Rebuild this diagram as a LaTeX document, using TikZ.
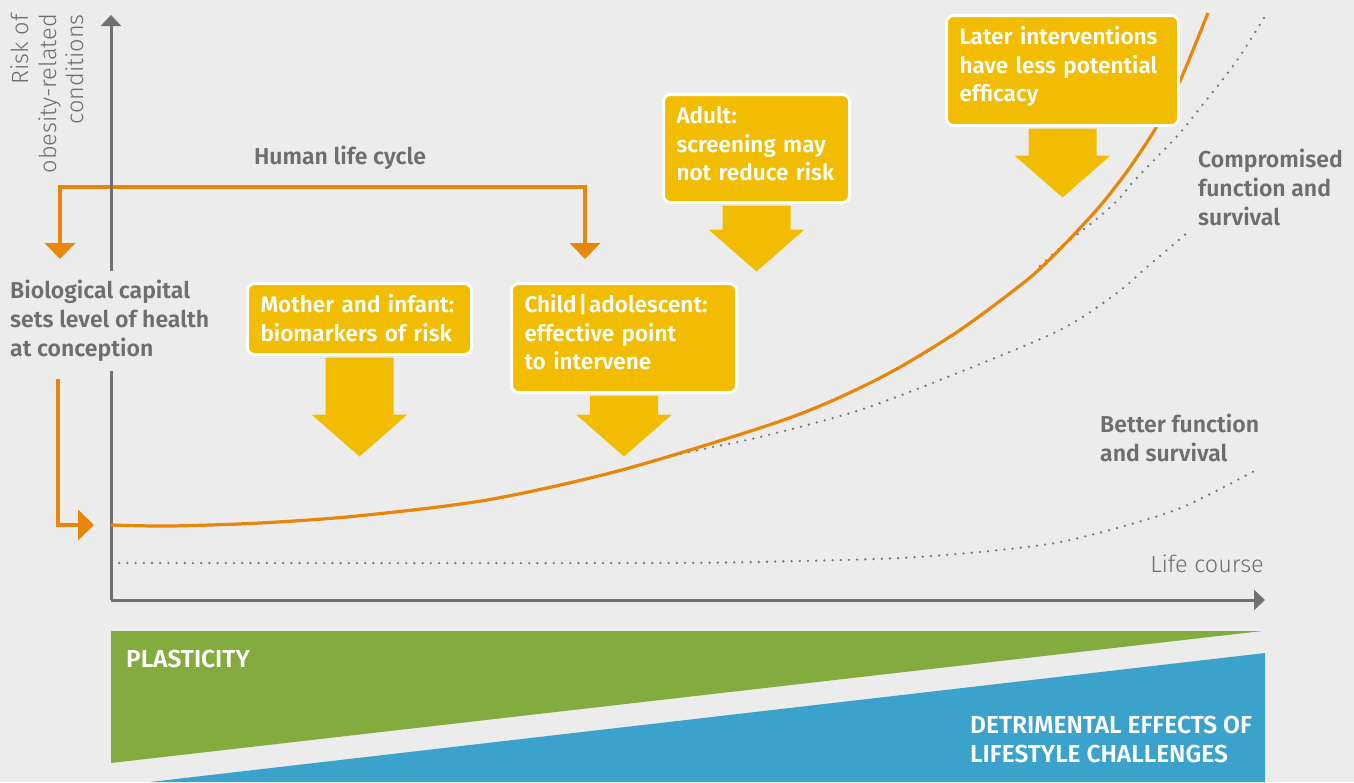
\documentclass[tikz,border=0pt]{standalone}
\usepackage{fontspec}
\setmainfont{Fira Sans}[BoldFont={Fira Sans SemiBold}]
\newfontfamily\thinfont{Fira Sans Light}
\usetikzlibrary{arrows.meta}
\definecolor{bg_gray}{HTML}{ECECEC}
\definecolor{axis_gray}{HTML}{707070}
\definecolor{text_gray}{HTML}{6E6E6E}
\definecolor{dot_gray}{HTML}{777777}
\definecolor{life_orange}{HTML}{E8860A}
\definecolor{box_yellow}{HTML}{F2BD00}
\definecolor{plastic_green}{HTML}{84AB3D}
\definecolor{lifestyle_blue}{HTML}{3BA3CB}
\tikzset{
  lifetip/.tip={Triangle[length=16pt,width=30pt]},
  axistip/.tip={Triangle[length=11pt,width=20pt]},
  axis/.style={line width=3pt, axis_gray, -axistip},
  life line/.style={line width=4.5pt, life_orange},
  risk curve/.style={line width=3.2pt, life_orange},
  outcome dots/.style={line width=2.6pt, dot_gray, line cap=round,
    dash pattern=on 0pt off 8.2pt},
  stage box/.style={fill=box_yellow, draw=white, line width=3pt,
    rounded corners=7pt, text=white, align=left, anchor=north west,
    inner xsep=13pt, inner ysep=0pt, text height=29pt,
    execute at begin node={\hyphenpenalty=10000},
    font=\bfseries\fontsize{22.5}{28.5}\selectfont},
  gray label/.style={text=text_gray, fill=bg_gray, align=left, inner sep=0pt,
    font=\bfseries\fontsize{23}{29}\selectfont},
  thin label/.style={text=text_gray, inner sep=0pt,
    font=\thinfont\fontsize{23.5}{27.5}\selectfont},
  band label/.style={text=white, align=left, inner sep=0pt,
    font=\bfseries\fontsize{24.5}{29}\selectfont}
}

\begin{document}
\begin{tikzpicture}[x=1pt, y=-1pt]
\useasboundingbox (0,0) rectangle (1354,782);
\fill[bg_gray] (0,0) rectangle (1354,782);

% Plasticity and lifestyle bands
\fill[plastic_green] (111,631) -- (1262,631) -- (111,763) -- cycle;
\fill[lifestyle_blue] (150,782) -- (1265,653) -- (1265,782) -- cycle;
\node[band label, anchor=base west] (plasticity) at (126,667) {PLASTICITY};
\node[band label, anchor=north west] (lifestyle) at (970,716)
  {DETRIMENTAL EFFECTS OF\\LIFESTYLE CHALLENGES};

% Life cycle bracket
\coordinate (cycle left) at (60,259);
\coordinate (cycle right) at (585,259);
\draw[life line, lifetip-lifetip] (cycle left) -- ++(0,-72) -| (cycle right);
\node[gray label, anchor=base] (cycle) at (340,164) {Human life cycle};

% Axes
\coordinate (origin) at (111,600);
\draw[axis] (origin) -- (1265,600);
\draw[axis] (origin) -- (111,15);
\node[thin label, rotate=90, anchor=north east, align=right] (risk) at (11,14)
  {Risk of\\obesity-related\\conditions};
\node[thin label, anchor=base east] (course) at (1264,572) {Life course};

% Outcome curves
\draw[outcome dots] plot[smooth] coordinates {(111,563) (650,563) (800,561)
  (900,558) (980,552) (1055,543) (1117,528) (1183,507) (1258,469)};
\draw[outcome dots] plot[smooth] coordinates {(570,483) (618,471) (680,454)
  (760,437) (860,410) (960,372) (1060,330) (1117,293) (1147,267)
  (1187,233)};
\draw[outcome dots] plot[smooth] coordinates {(1040,266) (1060,248)
  (1093,222) (1118,200) (1133,182) (1157,157) (1180,133) (1200,108)
  (1220,83) (1240,56) (1267,13)};

% Risk along the human life cycle
\coordinate (curve start) at (111,525);
\draw[risk curve] plot[smooth] coordinates {(curve start) (170,526)
  (260,523) (357,516) (487,500) (618,471) (760,428) (827,403) (893,371)
  (960,330) (1027,280) (1060,249) (1093,214) (1113,190) (1133,163)
  (1157,126) (1180,81) (1208,13)};

\node[gray label, anchor=north west] (better) at (1100,414)
  {Better function\\and survival};
\node[gray label, anchor=north west, inner sep=3pt] (compromised) at (1195,146)
  {Compromised\\function and\\survival};

% Starting level of health
\node[gray label, anchor=north west, inner ysep=9pt] (capital) at (10,271)
  {Biological capital\\sets level of health\\at conception};
\coordinate (capital foot) at (58,379);
\draw[life line, -lifetip, shorten >=17pt] (capital foot) |- (curve start);

% Intervention stages
\node[stage box, text width=198pt, text depth=42pt] (mother) at (246,282)
  {Mother and infant:\\biomarkers of risk};
\node[stage box, text width=199pt, text depth=80pt] (child) at (510,282)
  {Child\kern2pt|\kern2pt adolescent:\\effective point\\to intervene};
\node[stage box, text width=160pt, text depth=79pt] (adult) at (662,93)
  {Adult:\\screening may\\not reduce risk};
\node[stage box, text width=206pt, text depth=81pt] (later) at (945,14)
  {Later interventions\\have less potential\\efficacy};

\foreach \b/\len in {mother/57,child/19,adult/24,later/27}{
  \fill[box_yellow] (\b.south) ++(-34,1.5) -- ++(0,\len) -- ++(-14,0)
    -- ++(48,42) -- ++(48,-42) -- ++(-14,0) -- ++(0,-\len) -- cycle;
}

\end{tikzpicture}
\end{document}
